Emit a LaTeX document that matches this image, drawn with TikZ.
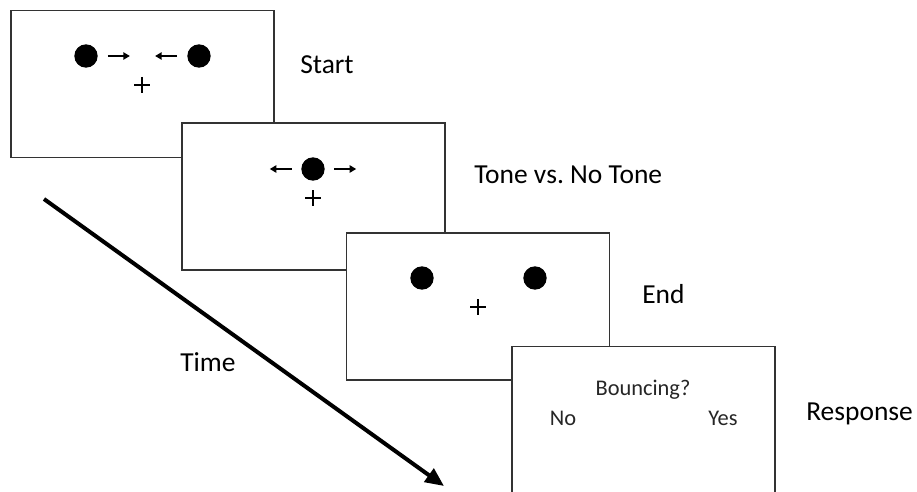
\documentclass[tikz,border=0pt]{standalone}
\usepackage{fontspec}
\setmainfont{Carlito}
\usetikzlibrary{arrows.meta}
\definecolor{boxline}{HTML}{333333}
\tikzset{
  screen/.style={draw=boxline, line width=1.1pt, fill=white, minimum width=197.25pt, minimum height=110pt, inner sep=0pt},
  ball/.style={circle, fill=black, minimum size=17.5pt, inner sep=0pt},
  motion/.style={line width=1.7pt, -{Triangle[length=5pt,width=5.5pt]}},
  label/.style={font=\fontsize{20.6}{24}\selectfont, anchor=west, inner sep=0pt},
  resp/.style={font=\fontsize{16.8}{20}\selectfont, text=black!85, inner sep=0pt},
  fix/.style={line width=1.5pt},
  timearrow/.style={line width=3pt, -{Triangle[length=14pt,width=12pt]}}
}
\begin{document}
\begin{tikzpicture}[x=0.75pt,y=-0.75pt]
\useasboundingbox (0,0) rectangle (917,492);
\clip (0,0) rectangle (917,492);
% screen 1
\node[screen] (s1) at (142.5,84) {};
\node[ball] (s1a) at (86,56) {};
\node[ball] (s1b) at (199,56) {};
\draw[motion] ([xshift=7.5pt]s1a.east) -- ++(22,0);
\draw[motion] ([xshift=-7.5pt]s1b.west) -- ++(-22,0);
\draw[fix] (142,77) -- (142,93) (134,85) -- (150,85);
\node[label] (l1) at (300,65) {Start};
% screen 2
\node[screen] (s2) at (313.5,196.5) {};
\node[ball] (s2a) at (313,169) {};
\draw[motion] ([xshift=-7pt]s2a.west) -- ++(-22,0);
\draw[motion] ([xshift=7pt]s2a.east) -- ++(22,0);
\draw[fix] (313,190) -- (313,206) (305,198) -- (321,198);
\node[label] (l2) at (474,175) {Tone vs.\ No Tone};
% screen 3
\node[screen] (s3) at (478,306.5) {};
\node[ball] (s3a) at (422,278) {};
\node[ball] (s3b) at (535,278) {};
\draw[fix] (478,299) -- (478,315) (470,307) -- (486,307);
\node[label] (l3) at (642,294) {End};
% screen 4
\node[screen] (s4) at (643.5,420) {};
\node[resp] (q) at (643,390) {Bouncing?};
\node[resp] (no) at (563,418) {No};
\node[resp] (yes) at (723,418) {Yes};
\node[label] (l4) at (806,414) {Response};
% time arrow
\coordinate (t0) at (44,199);
\coordinate (t1) at (444,486);
\draw[timearrow] (t0) -- (t1);
\node[label] (tl) at (180,362) {Time};
\end{tikzpicture}
\end{document}
